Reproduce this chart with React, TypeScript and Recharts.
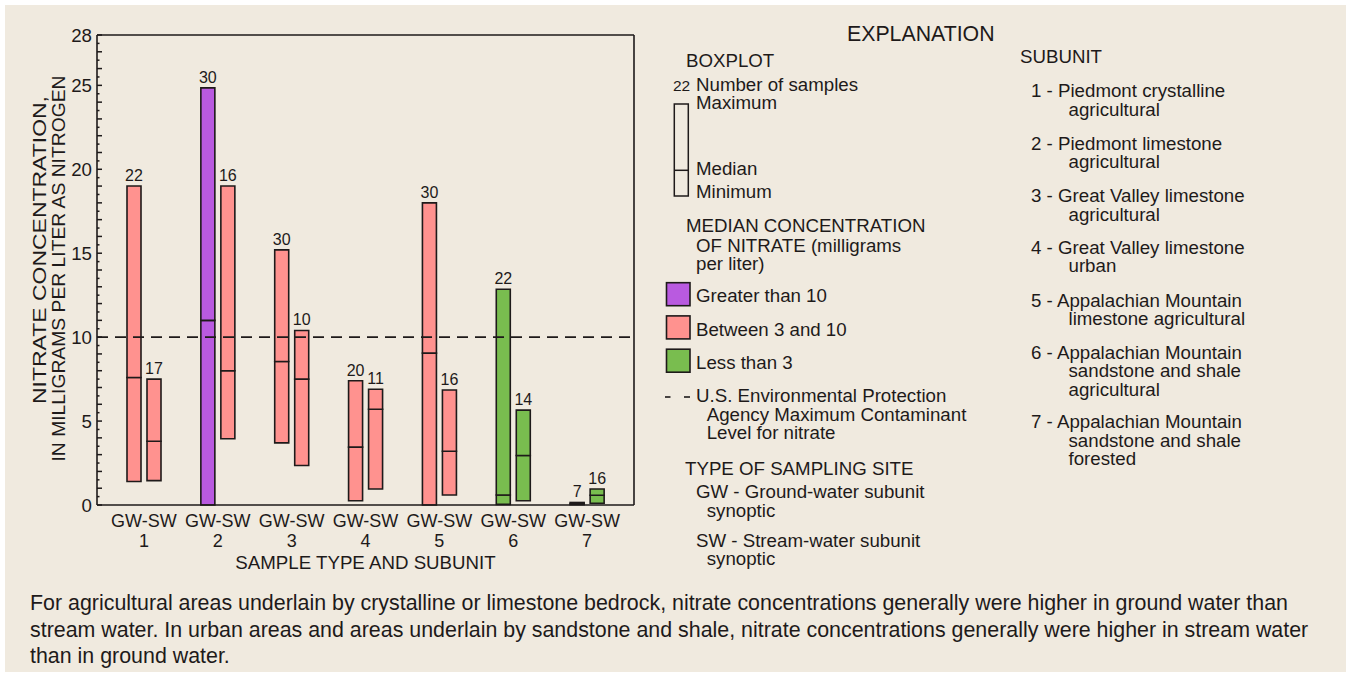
import React from 'react';
import { BarChart, Bar, XAxis, YAxis, ReferenceLine, Cell, LabelList, Label } from 'recharts';

// ---------- data ----------
const subunits = ['1', '2', '3', '4', '5', '6', '7'];
const gwMin = [1.4, 0, 3.7, 0.25, 0, 0.04, 0.02];
const gwMedian = [7.6, 11.0, 8.55, 3.45, 9.05, 0.6, 0.08];
const gwMax = [19.0, 24.85, 15.2, 7.4, 18.0, 12.85, 0.15];
const gwCount = [22, 30, 30, 20, 30, 22, 7];
const swMin = [1.45, 3.95, 2.35, 0.95, 0.6, 0.25, 0.1];
const swMedian = [3.8, 8.0, 7.5, 5.7, 3.2, 2.95, 0.58];
const swMax = [7.5, 19.0, 10.4, 6.9, 6.85, 5.65, 0.95];
const swCount = [17, 16, 10, 11, 16, 14, 16];
const mcl = 10;
const yTickLabels = [0, 5, 10, 15, 20, 25, 28];
const yTicks = Array.from({ length: 57 }, (_, i) => i / 2);

const legendClasses = ['Greater than 10', 'Between 3 and 10', 'Less than 3'];
const subunitNames: string[][] = [
  ['1 - Piedmont crystalline', 'agricultural'],
  ['2 - Piedmont limestone', 'agricultural'],
  ['3 - Great Valley limestone', 'agricultural'],
  ['4 - Great Valley limestone', 'urban'],
  ['5 - Appalachian Mountain', 'limestone agricultural'],
  ['6 - Appalachian Mountain', 'sandstone and shale', 'agricultural'],
  ['7 - Appalachian Mountain', 'sandstone and shale', 'forested'],
];
const captionLines = [
  'For agricultural areas underlain by crystalline or limestone bedrock, nitrate concentrations generally were higher in ground water than',
  'stream water. In urban areas and areas underlain by sandstone and shale, nitrate concentrations generally were higher in stream water',
  'than in ground water.',
];

// ---------- styles ----------
const FONT = '"Liberation Sans", Arial, Helvetica, sans-serif';
const FS = 18.7;
const INK = '#1e1a1a';
const BG = '#f0eadf';
const PURPLE = '#b95ae0';
const PINK = '#ff928f';
const GREEN = '#79bd4f';
const classColors = [PURPLE, PINK, GREEN];
const colorFor = (m: number) => (m > 10 ? PURPLE : m >= 3 ? PINK : GREEN);

const data = subunits.map((s, i) => ({
  name: s,
  gwBase: gwMin[i],
  gwLow: gwMedian[i] - gwMin[i],
  gwHigh: gwMax[i] - gwMedian[i],
  gwN: gwCount[i],
  gwFill: colorFor(gwMedian[i]),
  swBase: swMin[i],
  swLow: swMedian[i] - swMin[i],
  swHigh: swMax[i] - swMedian[i],
  swN: swCount[i],
  swFill: colorFor(swMedian[i]),
}));

const LeftTick = (props: any) => {
  const { x, y, payload } = props;
  const v = payload.value as number;
  const major = Number.isInteger(v);
  return (
    <g>
      <line x1={x} x2={x + (major ? 5 : 2.5)} y1={y} y2={y} stroke={INK} strokeWidth={1.5} />
      {yTickLabels.includes(v) && (
        <text x={x - 5} y={y} dy={6.5} textAnchor="end" fontSize={FS} fill={INK} fontFamily={FONT}>
          {v}
        </text>
      )}
    </g>
  );
};

const RightTick = (props: any) => {
  const { x, y, payload } = props;
  const v = payload.value as number;
  const major = Number.isInteger(v);
  return <line x1={x - (major ? 5 : 2.5)} x2={x} y1={y} y2={y} stroke={INK} strokeWidth={1.5} />;
};

const XTick = (props: any) => {
  const { x, y, payload } = props;
  return (
    <text x={x} y={y + 22} textAnchor="middle" fontFamily={FONT} fontSize={18} fill={INK}>
      <tspan x={x}>GW-SW</tspan>
      <tspan x={x} dy={20}>{payload.value}</tspan>
    </text>
  );
};

const YTitle = () => {
  return (
    <g fontFamily={FONT} fontSize={19} fill={INK}>
      <text
        x={46}
        y={250}
        textAnchor="middle"
        textLength={308}
        lengthAdjust="spacingAndGlyphs"
        transform="rotate(-90 46 250)"
      >
        NITRATE CONCENTRATION,
      </text>
      <text
        x={65}
        y={268.5}
        textAnchor="middle"
        textLength={386}
        lengthAdjust="spacingAndGlyphs"
        transform="rotate(-90 65 268.5)"
      >
        IN MILLIGRAMS PER LITER AS NITROGEN
      </text>
    </g>
  );
};

const XTitle = (props: any) => {
  const vb = props.viewBox || {};
  return (
    <text x={vb.x + vb.width / 2} y={568.5} textAnchor="middle" fontFamily={FONT} fontSize={FS} fill={INK}>
      SAMPLE TYPE AND SUBUNIT
    </text>
  );
};

const countLabelStyle = { fontSize: 16, fill: INK, fontFamily: FONT };

const Legend = () => {
  const t = (x: number, y: number, s: string, size = FS, anchor: any = 'start') => (
    <text key={s + x + y} x={x} y={y} fontSize={size} textAnchor={anchor}>
      {s}
    </text>
  );
  const subEls: React.ReactNode[] = [];
  const starts = [97.3, 150, 202.3, 253.7, 306.7, 359, 428.3];
  subunitNames.forEach((lines, i) => {
    lines.forEach((ln, k) => {
      subEls.push(t(k === 0 ? 1031 : 1068.5, starts[i] + k * 18.4, ln));
    });
  });
  const swatchY = [282.7, 315.9, 349.2];
  const swatchText = [302.3, 335.7, 369];
  return (
    <svg
      width={1351}
      height={675}
      style={{ position: 'absolute', left: 0, top: 0, pointerEvents: 'none' }}
    >
      <g fontFamily={FONT} fill={INK}>
        {t(847, 41.3, 'EXPLANATION', 21.3)}
        {t(686, 66.7, 'BOXPLOT')}
        {t(673, 90.7, '22', 15.5)}
        {t(696, 90.7, 'Number of samples')}
        {t(696, 109.3, 'Maximum')}
        <rect x={674.3} y={104} width={14} height={92} fill="none" stroke={INK} strokeWidth={1.5} />
        <line x1={674.3} x2={688.3} y1={170.3} y2={170.3} stroke={INK} strokeWidth={1.5} />
        {t(696, 175, 'Median')}
        {t(696, 197.7, 'Minimum')}
        {t(686, 232.3, 'MEDIAN CONCENTRATION')}
        {t(696, 251.7, 'OF NITRATE (milligrams')}
        {t(696, 270, 'per liter)')}
        {legendClasses.map((c, i) => (
          <g key={c}>
            <rect x={666.5} y={swatchY[i]} width={23.5} height={23} fill={classColors[i]} stroke={INK} strokeWidth={1.6} />
            {t(696, swatchText[i], c)}
          </g>
        ))}
        <line x1={665} x2={670.5} y1={397} y2={397} stroke={INK} strokeWidth={1.6} />
        <line x1={684} x2={690} y1={397} y2={397} stroke={INK} strokeWidth={1.6} />
        {t(696, 402.3, 'U.S. Environmental Protection')}
        {t(706.7, 420.9, 'Agency Maximum Contaminant')}
        {t(706.7, 439.3, 'Level for nitrate')}
        {t(685, 475, 'TYPE OF SAMPLING SITE')}
        {t(696, 498.3, 'GW - Ground-water subunit')}
        {t(706.7, 516.7, 'synoptic')}
        {t(696, 546.7, 'SW - Stream-water subunit')}
        {t(706.7, 565, 'synoptic')}
        {t(1020, 63.3, 'SUBUNIT')}
        {subEls}
        {captionLines.map((ln, i) => t(30, 610 + i * 26.7, ln, 21.4))}
      </g>
    </svg>
  );
};

export default function App() {
  return (
    <div style={{ position: 'absolute', left: 0, top: 0, width: 1351, height: 675, background: '#ffffff' }}>
      <div style={{ position: 'absolute', left: 5, top: 5, width: 1341, height: 667, background: BG }} />
      <div style={{ position: 'absolute', left: 0, top: 0 }}>
        <BarChart
          width={700}
          height={580}
          data={data}
          margin={{ top: 35, right: 60, bottom: 25, left: 0 }}
          barSize={14}
          barGap={6}
        >
          <XAxis
            dataKey="name"
            type="category"
            padding={{ left: 10, right: 10 }}
            height={50}
            tickSize={0}
            tickMargin={0}
            tickLine={false}
            axisLine={{ stroke: INK, strokeWidth: 1.6 }}
            tick={XTick}
            interval={0}
          >
            <Label content={XTitle} />
          </XAxis>
          <YAxis
            yAxisId="l"
            type="number"
            domain={[0, 28]}
            ticks={yTicks}
            interval={0}
            width={97}
            tickSize={0}
            tickMargin={0}
            tickLine={false}
            axisLine={{ stroke: INK, strokeWidth: 1.6 }}
            tick={LeftTick}
          >
            <Label content={YTitle} />
          </YAxis>
          <YAxis
            yAxisId="r"
            orientation="right"
            type="number"
            domain={[0, 28]}
            ticks={yTicks}
            interval={0}
            width={6}
            tickSize={0}
            tickMargin={0}
            tickLine={false}
            axisLine={{ stroke: INK, strokeWidth: 1.6 }}
            tick={RightTick}
          />
          <Bar yAxisId="l" dataKey="gwBase" stackId="gw" fill="none" stroke="none" isAnimationActive={false} />
          <Bar yAxisId="l" dataKey="gwLow" stackId="gw" stroke={INK} strokeWidth={1.6} isAnimationActive={false}>
            {data.map((d, i) => (
              <Cell key={i} fill={d.gwFill} />
            ))}
          </Bar>
          <Bar yAxisId="l" dataKey="gwHigh" stackId="gw" stroke={INK} strokeWidth={1.6} isAnimationActive={false}>
            {data.map((d, i) => (
              <Cell key={i} fill={d.gwFill} />
            ))}
            <LabelList dataKey="gwN" position="top" offset={5} style={countLabelStyle} />
          </Bar>
          <Bar yAxisId="l" dataKey="swBase" stackId="sw" fill="none" stroke="none" isAnimationActive={false} />
          <Bar yAxisId="l" dataKey="swLow" stackId="sw" stroke={INK} strokeWidth={1.6} isAnimationActive={false}>
            {data.map((d, i) => (
              <Cell key={i} fill={d.swFill} />
            ))}
          </Bar>
          <Bar yAxisId="l" dataKey="swHigh" stackId="sw" stroke={INK} strokeWidth={1.6} isAnimationActive={false}>
            {data.map((d, i) => (
              <Cell key={i} fill={d.swFill} />
            ))}
            <LabelList dataKey="swN" position="top" offset={5} style={countLabelStyle} />
          </Bar>
          <ReferenceLine yAxisId="l" y={mcl} stroke={INK} strokeWidth={1.6} strokeDasharray="11 7" />
          <ReferenceLine yAxisId="l" y={28} stroke={INK} strokeWidth={1.6} />
        </BarChart>
      </div>
      <Legend />
    </div>
  );
}
